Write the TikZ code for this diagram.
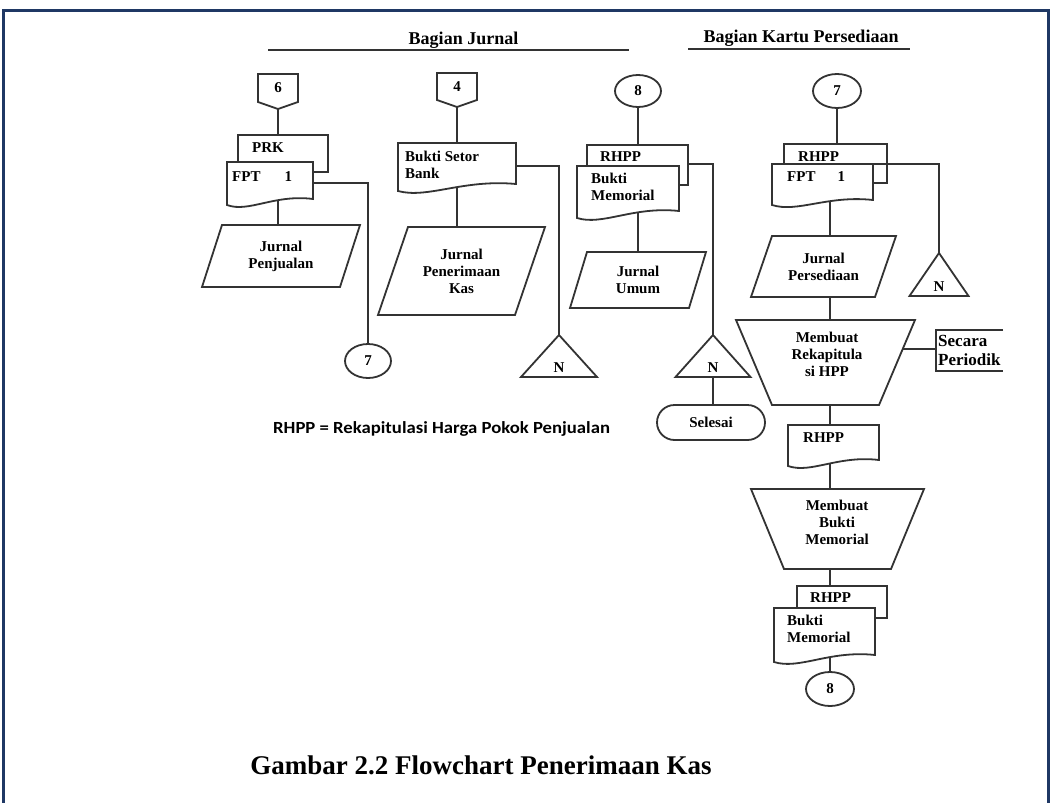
\documentclass[tikz,border=0pt]{standalone}
\usepackage{fontspec}
\setmainfont{Liberation Serif}
\newfontfamily\calibfont[FakeStretch=1.1]{Carlito}
\usetikzlibrary{calc,shapes.geometric}
\definecolor{framecol}{RGB}{31,56,100}
\pgfdeclarelayer{lines}
\pgfdeclarelayer{shapes}
\pgfsetlayers{lines,shapes,main}
\newcommand\shapefont{\fontsize{15}{17}\selectfont\bfseries}
\newcommand\docshape[2]{\begin{pgfonlayer}{shapes}\draw[shp] (#1.north west) -- (#1.north east) -- (#1.south east)
  .. controls ($(#1.south east)!0.45!(#1.south west)+(0,-5)$) and ($(#1.south east)!0.75!(#1.south west)+(0,#2+8)$) .. ($(#1.south west)+(0,#2)$) -- cycle;\end{pgfonlayer}}
\newcommand\backdoc[1]{\begin{pgfonlayer}{shapes}\draw[shp] (#1.north west) rectangle (#1.south east);\end{pgfonlayer}}
\newcommand\parashape[2]{\begin{pgfonlayer}{shapes}\draw[shp] ($(#1.north west)+(#2,0)$) -- (#1.north east) -- ($(#1.south east)+(-#2,0)$) -- (#1.south west) -- cycle;\end{pgfonlayer}}
\newcommand\trapshape[2]{\begin{pgfonlayer}{shapes}\draw[shp] (#1.north west) -- (#1.north east) -- ($(#1.south east)+(-#2,0)$) -- ($(#1.south west)+(#2,0)$) -- cycle;\end{pgfonlayer}}
\newcommand\trishape[1]{\begin{pgfonlayer}{shapes}\draw[shp] (#1.south west) -- (#1.north) -- (#1.south east) -- cycle;\end{pgfonlayer}}
\newcommand\offpage[1]{\begin{pgfonlayer}{shapes}\draw[shp] (#1.north west) -- (#1.north east) -- ($(#1.south east)+(0,-7)$) -- (#1.south) -- ($(#1.south west)+(0,-7)$) -- cycle;\end{pgfonlayer}}
\begin{document}
\begin{tikzpicture}[x=1pt,y=-1pt,
  ln/.style={line width=1.8pt, draw=black!80},
  shp/.style={line width=1.8pt, draw=black!80, fill=white},
  bx/.style args={#1 by #2}{rectangle, inner sep=0pt, outer sep=0pt, minimum width=#1pt, minimum height=#2pt},
  txt/.style={font=\shapefont, inner sep=0pt, align=center},
  ltxt/.style={font=\shapefont, inner sep=0pt, align=left, anchor=west},
  circ/.style={ellipse, line width=1.8pt, draw=black!80, fill=white, inner sep=0pt, font=\shapefont},
  hdr/.style={font=\fontsize{18}{20}\selectfont\bfseries, inner sep=0pt},
]
\useasboundingbox (0,0) rectangle (1052,803);
\begin{pgfonlayer}{lines}
\fill[white] (0,0) rectangle (1052,803);
\end{pgfonlayer}
\draw[framecol, line width=3pt] (3.5,803) -- (3.5,10) -- (1048.5,10) -- (1048.5,803);

% headers
\node[hdr] (hj) at (463.5,40) {Bagian Jurnal};
\draw[ln] (268,50) -- (629,50);
\node[hdr] (hk) at (801,38) {Bagian Kartu Persediaan};
\draw[ln] (688,49) -- (910,49);

% column 1
\node[bx=40 by 35] (p6) at (278,91.5) {};
\offpage{p6}
\node[txt] (p6t) at (278,88) {6};
\node[bx=90 by 37] (prk) at (283,153.5) {};
\backdoc{prk}
\node[ltxt] (prkt) at (252,148) {PRK};
\node[bx=86 by 37] (fpt1) at (270,180.5) {};
\docshape{fpt1}{6}
\node[ltxt] (fpt1t) at (232,177) {FPT\hspace{24pt}1};
\node[bx=158 by 62, txt] (jp) at (281,256) {Jurnal\\Penjualan};
\parashape{jp}{20}
\node[circ, minimum width=46pt, minimum height=34pt] (c7a) at (368,361) {7};

% column 2
\node[bx=40 by 34] (p4) at (457,90) {};
\offpage{p4}
\node[txt] (p4t) at (457,87) {4};
\node[bx=118 by 41] (bsb) at (457,163.5) {};
\docshape{bsb}{7}
\node[ltxt] (bsbt) at (405,165) {Bukti Setor\\Bank};
\node[bx=167 by 88, txt] (jpk) at (461.5,271) {Jurnal\\Penerimaan\\Kas};
\parashape{jpk}{30}
\node[bx=76 by 42] (tn1) at (559,356) {};
\trishape{tn1}
\node[txt] (tn1t) at (559,368) {N};

% column 3
\node[circ, minimum width=46pt, minimum height=32pt] (c8a) at (638,91) {8};
\node[bx=101 by 40] (rhpp3) at (637.5,165) {};
\backdoc{rhpp3}
\node[bx=102 by 45] (bm3) at (628,188.5) {};
\docshape{bm3}{7}
\node[ltxt] (rhpp3t) at (600,157) {RHPP};
\node[ltxt] (bm3t) at (591,187) {Bukti\\Memorial};
\node[bx=136 by 56, txt] (ju) at (638,280) {Jurnal\\Umum};
\parashape{ju}{17}
\node[bx=75 by 42] (tn2) at (713,356) {};
\trishape{tn2}
\node[txt] (tn2t) at (713,368) {N};
\node[rectangle, rounded corners=17.5pt, line width=1.8pt, draw=black!80, fill=white, minimum width=108pt, minimum height=35pt, inner sep=0pt, font=\shapefont] (sel) at (711,422.5) {Selesai};

% column 4
\node[circ, minimum width=48pt, minimum height=34pt] (c7b) at (837,91) {7};
\node[bx=103 by 39] (rhpp4) at (835.5,163.5) {};
\backdoc{rhpp4}
\node[bx=101 by 36] (fpt4) at (822.5,182) {};
\docshape{fpt4}{5}
\node[ltxt] (rhpp4t) at (798,157) {RHPP};
\node[ltxt] (fpt4t) at (787,177) {FPT\hspace{22pt}1};
\node[bx=145 by 61, txt] (jps) at (823.5,266.5) {Jurnal\\Persediaan};
\parashape{jps}{21}
\node[bx=59 by 43] (tn3) at (939,274.5) {};
\trishape{tn3}
\node[txt] (tn3t) at (939,287) {N};
\node[bx=179 by 85] (trap1) at (825.5,362.5) {};
\trapshape{trap1}{36}
\node[txt] (trap1t) at (827,354.5) {Membuat\\Rekapitula\\si HPP};
\node[bx=91 by 35] (rhppd) at (833.5,442.5) {};
\docshape{rhppd}{6}
\node[ltxt] (rhppdt) at (803,438) {RHPP};
\node[bx=173 by 80] (trap2) at (837.5,529) {};
\trapshape{trap2}{33}
\node[txt] (trap2t) at (837,522) {Membuat\\Bukti\\Memorial};
\node[bx=90 by 32] (rhpp5) at (842,602) {};
\backdoc{rhpp5}
\node[bx=101 by 47] (bm5) at (824.5,631.5) {};
\docshape{bm5}{7}
\node[ltxt] (rhpp5t) at (810,598) {RHPP};
\node[ltxt] (bm5t) at (787,629) {Bukti\\Memorial};
\node[circ, minimum width=48pt, minimum height=34pt] (c8b) at (830,689) {8};

% annotation
\coordinate (sec) at (936,349);
\coordinate (secT) at (936,330);
\coordinate (secB) at (936,371);
\draw[ln] (1003,330) -- (secT) -- (secB) -- (1003,371);
\node[font=\fontsize{17}{19}\selectfont\bfseries, anchor=west, align=left, inner sep=0pt] (sect) at (938,350) {Secara\\Periodik};

% connectors
\begin{pgfonlayer}{lines}
\draw[ln] (p6.south) -- (p6.south |- prk.north);
\draw[ln] (p6.south |- fpt1.center) -- (p6.south |- jp.north);
\draw[ln] ($(fpt1.north east)+(0,21)$) -| (c7a.north);
\draw[ln] (p4.south) -- (p4.south |- bsb.north);
\draw[ln] (p4.south |- bsb.center) -- (p4.south |- jpk.north);
\draw[ln] ($(bsb.north east)+(0,23)$) -| (tn1.north);
\draw[ln] (c8a.south) -- (c8a.south |- rhpp3.north);
\draw[ln] (c8a.south |- bm3.center) -- (c8a.south |- ju.north);
\draw[ln] ($(rhpp3.north east)+(0,19)$) -| (tn2.north);
\draw[ln] (tn2.south) -- (tn2.south |- sel.north);
\draw[ln] (c7b.south) -- (c7b.south |- rhpp4.north);
\draw[ln] (c8b.north |- fpt4.center) -- (c8b.north |- jps.north);
\draw[ln] (c8b.north |- jps.center) -- (c8b.north |- trap1.north);
\draw[ln] (c8b.north |- trap1.center) -- (c8b.north |- rhppd.north);
\draw[ln] (c8b.north |- rhppd.center) -- (c8b.north |- trap2.north);
\draw[ln] (c8b.north |- trap2.center) -- (c8b.north |- rhpp5.north);
\draw[ln] (c8b.north |- bm5.center) -- (c8b.north);
\draw[ln] (trap1.center |- sec) -- (sec);
\end{pgfonlayer}
\draw[ln] (fpt4.north east) -| (tn3.north);

% legend and caption
\node[font=\calibfont\fontsize{17}{19}\selectfont\bfseries, anchor=base west, inner sep=0pt] (leg) at (273,433) {RHPP = Rekapitulasi Harga Pokok Penjualan};
\node[font=\fontsize{27}{30}\selectfont\bfseries, anchor=base, inner sep=0pt] (cap) at (481,774) {Gambar 2.2 Flowchart Penerimaan Kas};
\end{tikzpicture}
\end{document}
